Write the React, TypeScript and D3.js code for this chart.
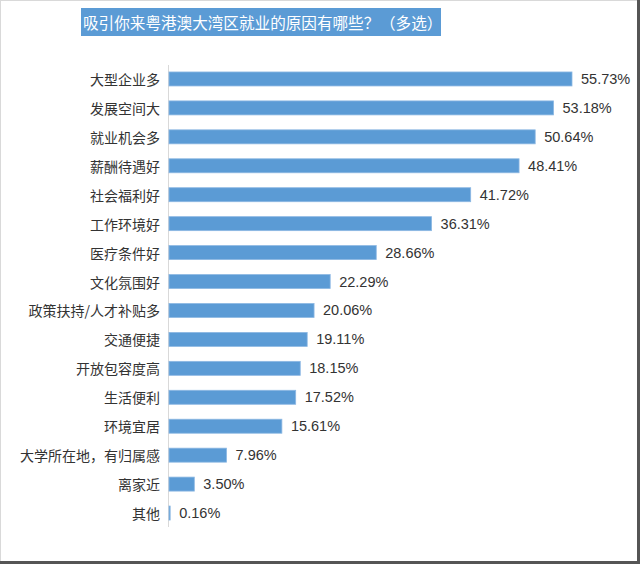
import React from "react";
import * as d3 from "d3";

const titleMain = "吸引你来粤港澳大湾区就业的原因有哪些";
const titleQ = "？";
const titleTail = "（多选）";
const categories = [
  "大型企业多",
  "发展空间大",
  "就业机会多",
  "薪酬待遇好",
  "社会福利好",
  "工作环境好",
  "医疗条件好",
  "文化氛围好",
  "政策扶持/人才补贴多",
  "交通便捷",
  "开放包容度高",
  "生活便利",
  "环境宜居",
  "大学所在地，有归属感",
  "离家近",
  "其他",
];
const values = [55.73, 53.18, 50.64, 48.41, 41.72, 36.31, 28.66, 22.29, 20.06, 19.11, 18.15, 17.52, 15.61, 7.96, 3.5, 0.16];

const W = 640;
const H = 564;
const FONT = "'Noto Sans CJK SC', 'Noto Sans', sans-serif";
const NUMFONT = "'Liberation Sans', Arial, sans-serif";

export default function App() {
  const x0 = 169;
  const x = d3.scaleLinear().domain([0, 55.73]).range([x0, 572]);
  const y = d3
    .scaleBand<string>()
    .domain(categories)
    .range([64.5, 527.5])
    .paddingInner(0.5)
    .paddingOuter(0.25);
  const bh = 14;
  const tfs = 15.6;
  return (
    <svg
      width={W}
      height={H}
      style={{ position: "absolute", left: 0, top: 0, display: "block", background: "#fff" }}
      fontFamily={FONT}
    >
      <rect x={0} y={0} width={W} height={H} fill="#fff" />
      <line x1={0.5} y1={0} x2={0.5} y2={H} stroke="#d9d9d9" strokeWidth={1} />
      <line x1={0} y1={0.5} x2={W} y2={0.5} stroke="#d9d9d9" strokeWidth={1} />
      <line x1={638.5} y1={0} x2={638.5} y2={H} stroke="#555" strokeWidth={3} />
      <line x1={0} y1={562.5} x2={W} y2={562.5} stroke="#555" strokeWidth={3} />
      <rect x={81} y={8} width={360} height={28} fill="#5b9bd5" />
      <text y={22} fill="#fff" fontSize={tfs} dominantBaseline="central">
        <tspan x={83}>{titleMain}</tspan>
        <tspan x={83 + tfs * titleMain.length}>{titleQ}</tspan>
        <tspan x={380}>{titleTail}</tspan>
      </text>
      <line x1={168.5} y1={65} x2={168.5} y2={527} stroke="#d9d9d9" strokeWidth={1} />
      {categories.map((c, i) => {
        const cy = (y(c) as number) + y.bandwidth() / 2;
        const v = values[i];
        return (
          <g key={c}>
            <text x={160} y={cy} fontSize={14} fill="#333" textAnchor="end" dominantBaseline="central">
              {c}
            </text>
            <rect
              x={x(0)}
              y={cy - bh / 2}
              width={Math.max(0, x(v) - x(0))}
              height={bh}
              fill="#5b9bd5"
              stroke="#8db8e3"
              strokeWidth={0.8}
            />
            <text
              x={x(v) + 9}
              y={cy}
              fontSize={14.5}
              fill="#333"
              fontFamily={NUMFONT}
              dominantBaseline="central"
            >
              {v.toFixed(2) + "%"}
            </text>
          </g>
        );
      })}
    </svg>
  );
}
